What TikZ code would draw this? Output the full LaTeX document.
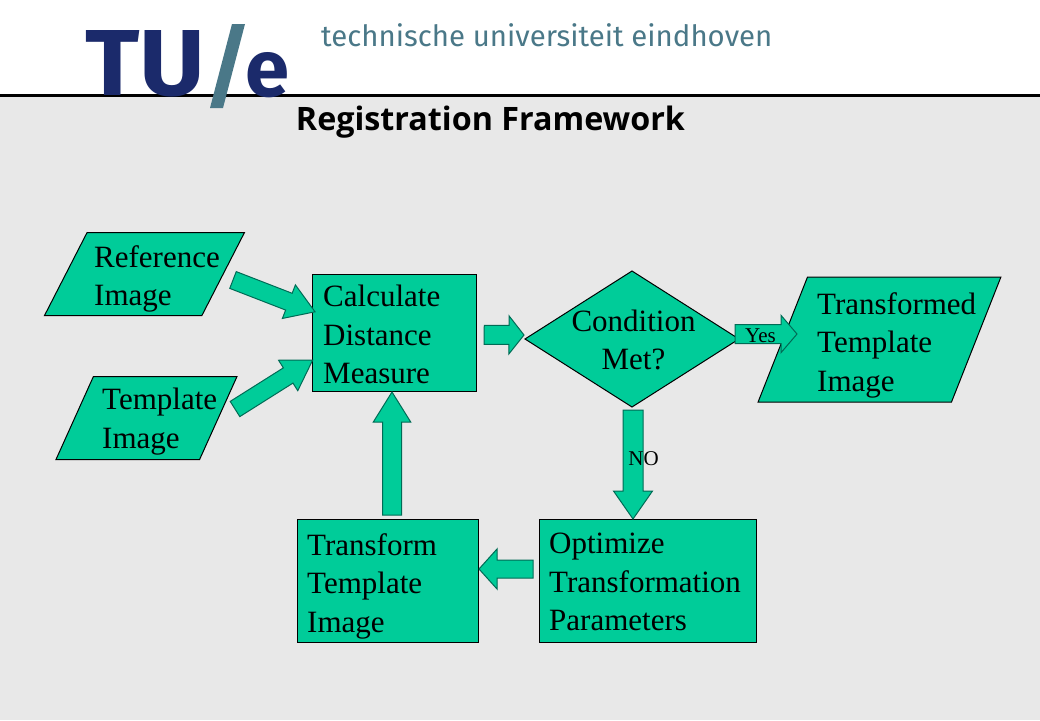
\documentclass[tikz,border=0pt]{standalone}
\usepackage{fontspec}
\usepackage{graphicx}
\usetikzlibrary{shapes.geometric,calc}
\setmainfont{Liberation Serif}
\newfontfamily\titlefont{Open Sans}
\newfontfamily\logofont{Fira Sans}
\definecolor{bggrey}{HTML}{E8E8E8}
\definecolor{boxgreen}{HTML}{00CC99}
\definecolor{arrowedge}{HTML}{006B55}
\definecolor{tuenavy}{HTML}{1B2A6B}
\definecolor{tueteal}{HTML}{4A7888}
\tikzset{
  x=1pt,y=-1pt,
  shapebox/.style={draw=black,line width=1pt,fill=boxgreen,inner sep=0pt,outer sep=0pt},
  rectbox/.style={shapebox,rectangle},
  slantbox/.style={shapebox,trapezium,trapezium stretches=true,trapezium left angle=#1,trapezium right angle=180-#1},
  decision/.style={shapebox,diamond},
  boxtext/.style={anchor=north west,inner sep=0pt,align=left,font=\fontsize{31}{38.5}\selectfont},
  blockarrow/.style={draw=arrowedge,line width=1pt,fill=boxgreen,line join=miter},
  smalltext/.style={inner sep=0pt,font=\fontsize{21}{23}\selectfont}
}
\newcommand{\blockarrowdraw}[5]{%
  \coordinate (hb) at ($(#2)!#5pt!(#1)$);
  \draw[blockarrow] ($(#1)!#3pt!90:(hb)$) -- ($(hb)!#3pt!-90:(#1)$) -- ($(hb)!#4pt!-90:(#1)$) -- (#2)
    -- ($(hb)!#4pt!90:(#1)$) -- ($(hb)!#3pt!90:(#1)$) -- ($(#1)!#3pt!-90:(hb)$) -- cycle;
}
\begin{document}
\begin{tikzpicture}
\useasboundingbox (0,0) rectangle (1040,720);
\fill[white] (0,0) rectangle (1040,95);
\fill[bggrey] (0,95) rectangle (1040,720);
\draw[black,line width=2.6pt] (0,95.5) -- (1040,95.5);

% logo
\node[anchor=base west,inner sep=0pt,text=tuenavy] (logotu) at (85,95) {\resizebox{120pt}{65pt}{\logofont\bfseries TU}};
\fill[tueteal] (232,24) -- (245,24) -- (223,108) -- (210,108) -- cycle;
\node[anchor=base west,inner sep=0pt,text=tuenavy] (logoe) at (245,96) {\resizebox{44pt}{44pt}{\logofont\bfseries e}};
\node[anchor=base west,inner sep=0pt,text=tueteal] (tagline) at (321,46) {\resizebox{451pt}{!}{\logofont technische universiteit eindhoven}};
\node[anchor=base,inner sep=0pt] (title) at (490.5,130) {\resizebox{389pt}{!}{\titlefont\bfseries Registration Framework}};

% shapes
\node[slantbox=68,minimum width=200pt,minimum height=83pt] (ref) at (144.5,274) {\phantom{x}};
\node[slantbox=69,minimum width=181pt,minimum height=83pt] (tmpl) at (146.5,418) {\phantom{x}};
\node[rectbox,minimum width=164pt,minimum height=117.5pt] (calc) at (394.7,332.8) {};
\node[decision,minimum width=214pt,minimum height=136pt] (cond) at (632,339) {};
\node[slantbox=69.5,minimum width=243pt,minimum height=125pt] (result) at (879.5,339.5) {\phantom{x}};
\node[rectbox,minimum width=181.5pt,minimum height=123pt] (trans) at (388.2,580.5) {};
\node[rectbox,minimum width=217.5pt,minimum height=123pt] (optim) at (648.2,580.5) {};

% arrows
\coordinate (a1s) at (233,280);
\coordinate (a1t) at ($(calc.west)+(2.3,-21)$);
\blockarrowdraw{a1s}{a1t}{9}{18}{28}
\coordinate (a2s) at (235,409);
\coordinate (a2t) at (312.7,360);
\blockarrowdraw{a2s}{a2t}{9}{18}{29}
\coordinate (a3s) at ($(calc.east)+(7.5,2)$);
\coordinate (a3t) at ($(cond.west)+(-1,-4)$);
\blockarrowdraw{a3s}{a3t}{9.5}{19}{15}
\coordinate (a4s) at (392,515);
\coordinate (a4t) at (392,392);
\blockarrowdraw{a4s}{a4t}{9.5}{18.7}{30}
\coordinate (a5s) at (735,334);
\coordinate (a5t) at (797,334);
\blockarrowdraw{a5s}{a5t}{9.5}{18.7}{16}
\coordinate (a6s) at (633,410);
\coordinate (a6t) at (633,519);
\blockarrowdraw{a6s}{a6t}{10}{19.5}{28}
\coordinate (a7s) at (533,569);
\coordinate (a7t) at (479,569);
\blockarrowdraw{a7s}{a7t}{9}{20}{18}

% texts
\node[boxtext] (reft) at (94,245) {Reference\\Image};
\node[boxtext] (tmplt) at (102,388) {Template\\Image};
\node[boxtext] (calct) at (323,285) {Calculate\\Distance\\Measure};
\node[boxtext,align=center,anchor=north] (condt) at (633.5,309.5) {Condition\\Met?};
\node[boxtext] (resultt) at (817,292) {Transformed\\Template\\Image};
\node[boxtext] (transt) at (307,533) {Transform\\Template\\Image};
\node[boxtext] (optimt) at (549,533) {Optimize\\Transformation\\Parameters};
\node[smalltext] (yes) at (760.5,335.5) {Yes};
\node[smalltext] (no) at (643.5,459) {NO};
\end{tikzpicture}
\end{document}
